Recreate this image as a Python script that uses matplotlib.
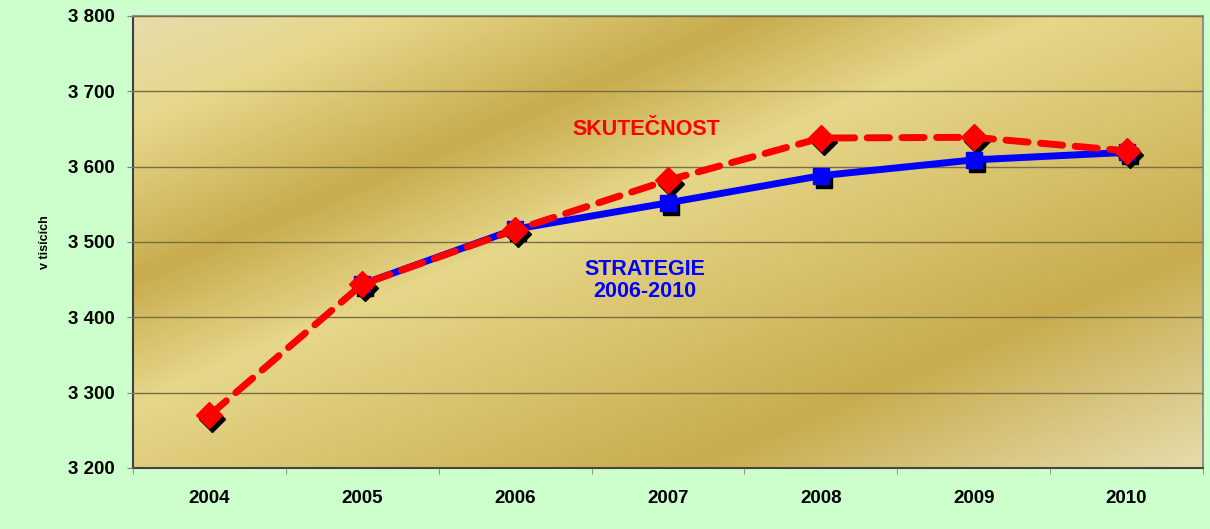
import matplotlib.pyplot as plt
import matplotlib.transforms as mtransforms
from matplotlib.colors import LinearSegmentedColormap
import numpy as np

years = ['2004', '2005', '2006', '2007', '2008', '2009', '2010']
skutecnost = [3270, 3444, 3516, 3582, 3638, 3639, 3621]
strategie_years = ['2005', '2006', '2007', '2008', '2009', '2010']
strategie = [3444, 3517, 3552, 3588, 3609, 3619]
y_ticks = [3200, 3300, 3400, 3500, 3600, 3700, 3800]

plt.rcParams['font.family'] = ['Liberation Sans', 'DejaVu Sans']

fig = plt.figure(figsize=(12.1, 5.29), dpi=100, facecolor='#ccffcc')
ax = fig.add_axes([133 / 1210, 61 / 529, 1070 / 1210, 452 / 529])

# gold diagonal gradient background
gold = LinearSegmentedColormap.from_list('gold', [
    (0.0, '#e6dcac'), (0.12, '#e6d78a'), (0.29, '#c8ac4e'),
    (0.43, '#e6d78a'), (0.76, '#c8ac4e'), (1.0, '#e6dcac')])
u, v = np.meshgrid(np.linspace(0, 1, 400), np.linspace(0, 1, 200))
ax.imshow((u + v) / 2, cmap=gold, aspect='auto', extent=[-0.5, 6.5, 3200, 3800],
          origin='upper', zorder=0, interpolation='bilinear')

x_all = np.arange(len(years))
x_str = [years.index(y) for y in strategie_years]

shadow = mtransforms.offset_copy(ax.transData, fig=fig, x=3, y=-4, units='dots')

# shadows of markers
ax.plot(x_str, strategie, ls='none', marker='s', ms=12, color='black', transform=shadow, zorder=3)
ax.plot(x_all, skutecnost, ls='none', marker='D', ms=13, color='black', transform=shadow, zorder=3)

ax.plot(x_str, strategie, color='#0000ff', lw=5, marker='s', ms=12, zorder=4)
ax.plot(x_all, skutecnost, color='#ff0000', lw=5, ls=(0, (3.2, 1.8)), dash_capstyle='round',
        marker='D', ms=13, zorder=5)

ax.set_xlim(-0.5, 6.5)
ax.set_ylim(3200, 3800)
ax.set_yticks(y_ticks)
ax.set_yticklabels([f'{t // 1000} {t % 1000:03d}' for t in y_ticks], fontsize=13.5, fontweight='bold')
ax.set_xticks(x_all)
ax.set_xticklabels(years, fontsize=13.5, fontweight='bold')
ax.set_xticks(np.arange(-0.5, 7, 1), minor=True)
ax.tick_params(axis='x', which='major', length=0, pad=16)
ax.tick_params(axis='x', which='minor', length=4, color='#808080')
ax.tick_params(axis='y', length=4, color='#808080', pad=9)

ax.yaxis.grid(True, color='#7a6c44', lw=1)
ax.set_axisbelow(False)
for line in ax.get_ygridlines():
    line.set_zorder(1)

for side in ['left', 'bottom']:
    ax.spines[side].set_color('#404040')
    ax.spines[side].set_linewidth(1.5)
for side in ['top', 'right']:
    ax.spines[side].set_color('#909090')
    ax.spines[side].set_linewidth(1.5)

ax.set_ylabel('v tisících', fontsize=9, fontweight='bold', labelpad=12)

ax.text(2.86, 3649, 'SKUTEČNOST', color='#ff0000', fontsize=15.5, fontweight='bold', ha='center', va='center')
ax.text(2.85, 3449, 'STRATEGIE\n2006-2010', color='#0000ff', fontsize=15.5, fontweight='bold',
        ha='center', va='center', linespacing=1.05)

fig.savefig('out.png', dpi=100, facecolor=fig.get_facecolor())
